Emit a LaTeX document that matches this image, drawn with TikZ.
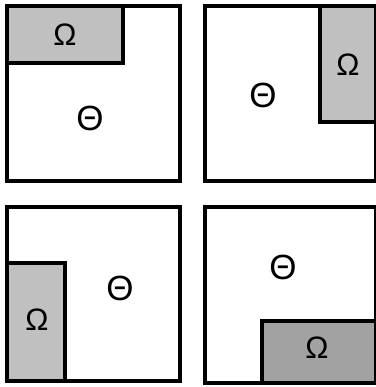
\documentclass[tikz,border=0pt]{standalone}
\usepackage{fontspec}
\setmainfont{Liberation Sans}
\usepackage{tikz}

\definecolor{omegagray}{HTML}{C0C0C0}
\definecolor{omegadark}{HTML}{A2A2A2}

\begin{document}
\begin{tikzpicture}[x=1pt, y=-1pt, line width=4pt,
  omega/.style={font=\fontsize{31}{33}\selectfont},
  theta/.style={font=\fontsize{35}{37}\selectfont}]
\useasboundingbox[fill=white] (0,0) rectangle (375,387);
% top left
\fill[omegagray] (7,6) rectangle (123,63);
\draw (7,63) -- (123,63) -- (123,6);
\draw (7,6) rectangle (180,181);
\node[omega] (om1) at (65,35) {Ω};
\node[theta] (th1) at (90,118) {Θ};
% top right
\fill[omegagray] (320,6) rectangle (376,122);
\draw (320,6) -- (320,122) -- (376,122);
\draw (205,6) rectangle (376,181);
\node[omega] (om2) at (348,65) {Ω};
\node[theta] (th2) at (263,95) {Θ};
% bottom left
\fill[omegagray] (7,263) rectangle (65,381);
\draw (7,263) -- (65,263) -- (65,381);
\draw (7,207) rectangle (180,381);
\node[omega] (om3) at (37,320) {Ω};
\node[theta] (th3) at (120,288) {Θ};
% bottom right
\fill[omegadark] (262,321) rectangle (376,383);
\draw (262,383) -- (262,321) -- (376,321);
\draw (205,207) rectangle (376,383);
\node[omega] (om4) at (317,348) {Ω};
\node[theta] (th4) at (283,267) {Θ};
\end{tikzpicture}
\end{document}
